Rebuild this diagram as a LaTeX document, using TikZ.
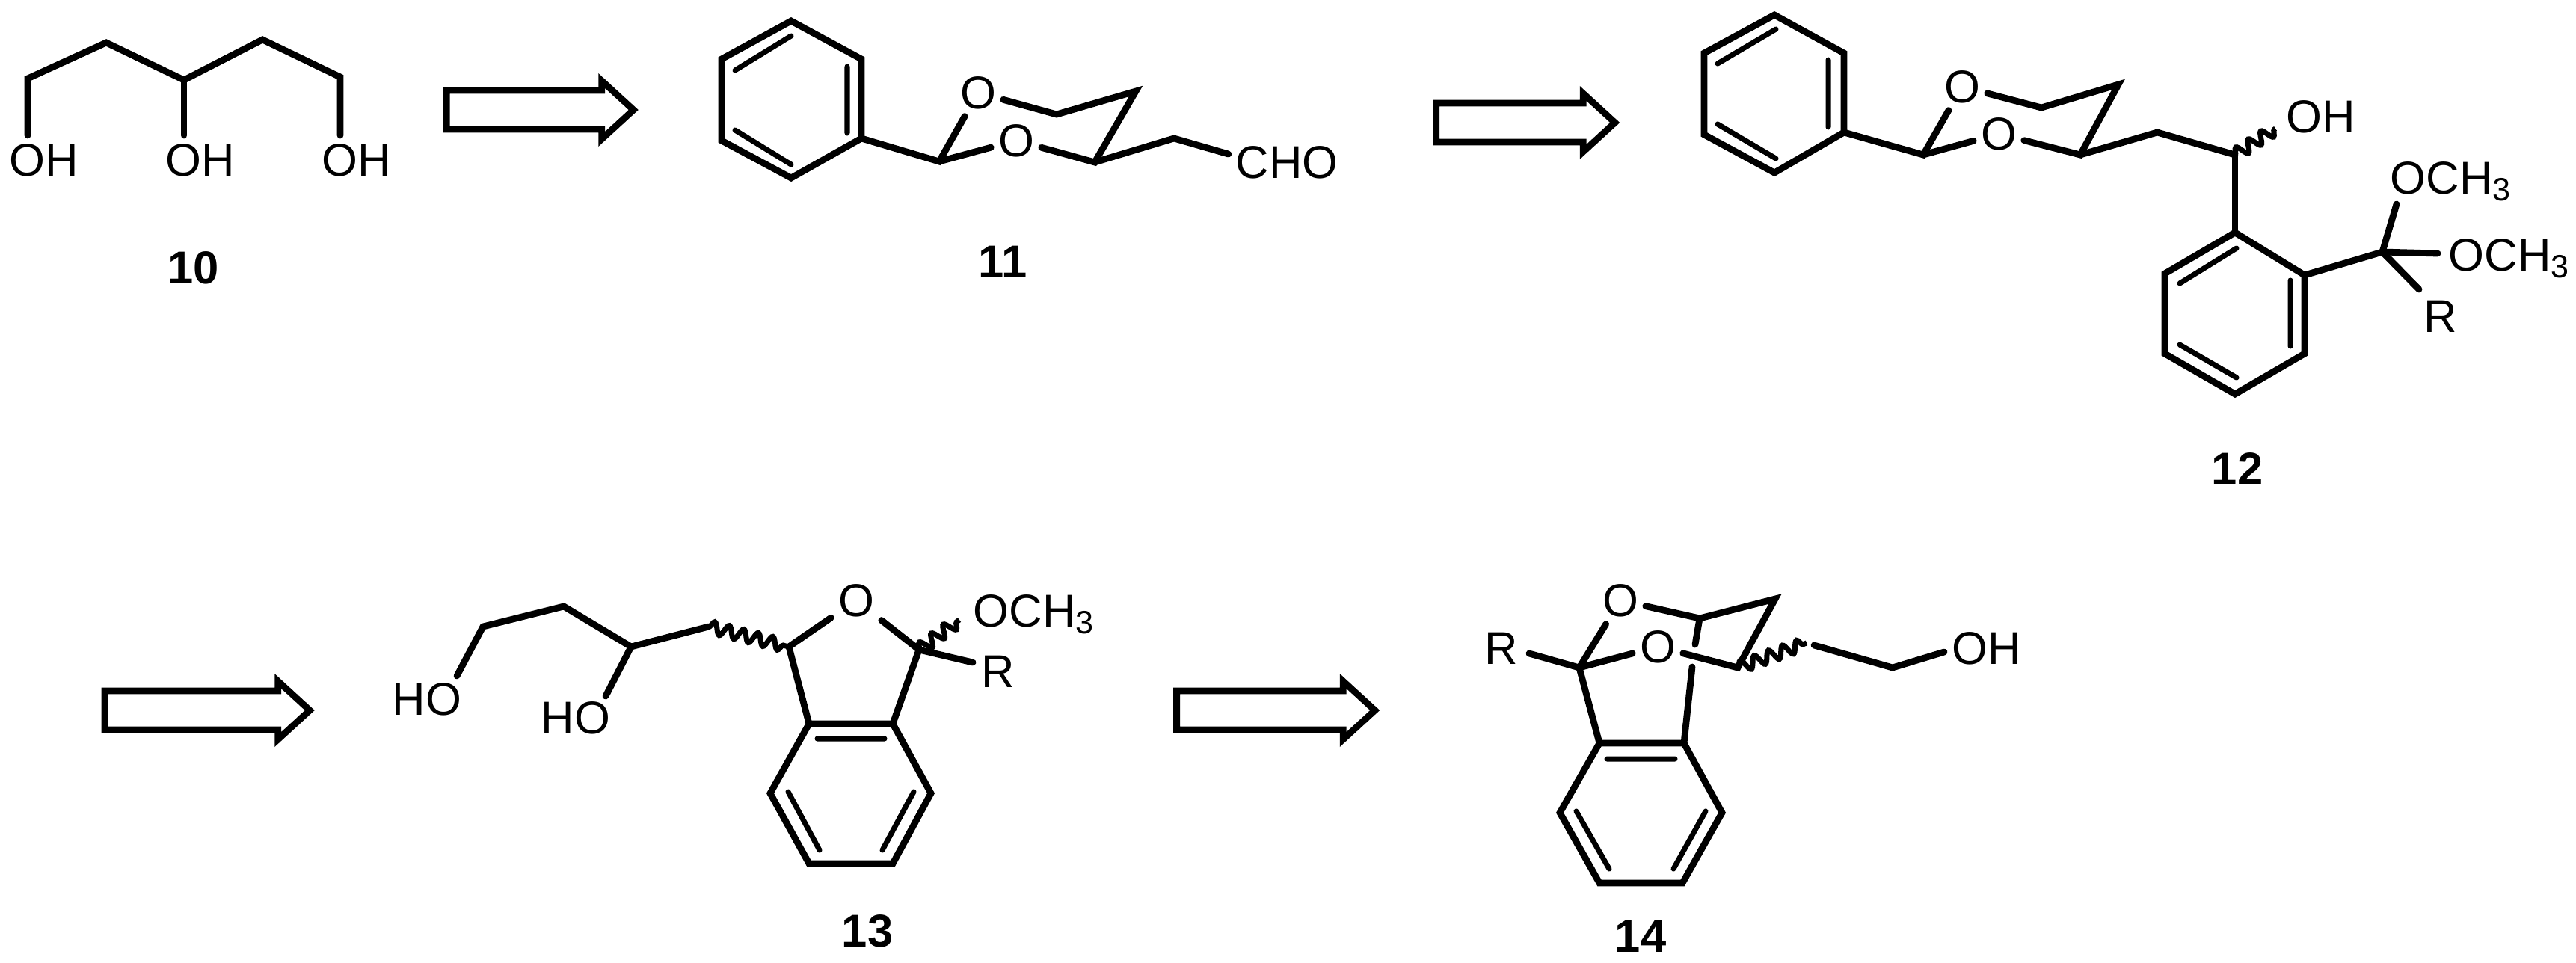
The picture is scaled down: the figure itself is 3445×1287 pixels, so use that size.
\documentclass[tikz,border=0pt]{standalone}
\usepackage{fontspec}
\setmainfont{Liberation Sans}
\usetikzlibrary{decorations.pathmorphing,shapes.arrows}
\tikzset{x=0.01cm,y=-0.01cm,
         bond/.style={line width=2.5pt,line cap=round,line join=miter},
         inbond/.style={line width=2pt,line cap=round},
         wavy/.style={line width=2pt,decorate,
           decoration={snake,amplitude=0.08cm,segment length=0.2cm}},
         atom/.style={inner sep=2.6pt,font=\fontsize{17.5}{20}\selectfont},
         sublabel/.style={inner sep=0pt,anchor=base west,font=\fontsize{17.5}{20}\selectfont},
         numlabel/.style={inner sep=0pt,font=\fontsize{17.5}{20}\selectfont\bfseries},
         retro/.style={draw,line width=2.5pt,single arrow,shape border rotate=0,
           minimum width=0.78cm,single arrow head extend=0.13cm,
           single arrow tip angle=85,inner xsep=0pt,inner ysep=0.215cm,outer sep=0pt}}
\newcommand{\methoxy}{OCH\textsubscript{3}}
\begin{document}
\begin{tikzpicture}
  \useasboundingbox (0,0) rectangle (3445,1287);
  \node[retro,minimum height=2.5cm] (r1) at (708,147) {};
  \node[retro,minimum height=2.39cm] (r2) at (2026,164) {};
  \node[retro,minimum height=2.74cm] (r3) at (263,950) {};
  \node[retro,minimum height=2.65cm] (r4) at (1692,950) {};

  \node[atom] (oh10a) at (59,214) {OH};
  \node[atom] (oh10b) at (268,214) {OH};
  \node[atom] (oh10c) at (477,214) {OH};
  \coordinate (c10a) at (37,105);
  \coordinate (c10b) at (142,57);
  \coordinate (c10c) at (246,107);
  \coordinate (c10d) at (351,53);
  \coordinate (c10e) at (455,103);
  \coordinate (e10a) at (37,181);
  \coordinate (e10b) at (246,181);
  \coordinate (e10c) at (455,181);
  \draw[bond] (e10a) -- (c10a) -- (c10b) -- (c10c) -- (c10d) -- (c10e) -- (e10c);
  \draw[bond] (c10c) -- (e10b);
  \node[numlabel] (n10) at (259,358) {10};

  \coordinate (p11a) at (1058,28);
  \coordinate (p11b) at (1152,79);
  \coordinate (p11c) at (1152,185);
  \coordinate (p11d) at (1058,238);
  \coordinate (p11e) at (965,188);
  \coordinate (p11f) at (965,79);
  \draw[bond] (p11a) -- (p11b) -- (p11c) -- (p11d) -- (p11e) -- (p11f) -- cycle;
  \coordinate (i11a) at (983,94);
  \coordinate (i11b) at (1058,48);
  \coordinate (i11c) at (1133,89);
  \coordinate (i11d) at (1133,178);
  \coordinate (i11e) at (983,174);
  \coordinate (i11f) at (1058,220);
  \draw[inbond] (i11a) -- (i11b) (i11c) -- (i11d) (i11e) -- (i11f);
  \node[atom] (o11a) at (1308,124) {O};
  \node[atom] (o11b) at (1359,188) {O};
  \coordinate (c11a) at (1256,216);
  \coordinate (c11b) at (1464,217);
  \coordinate (c11c) at (1519,122);
  \coordinate (c11d) at (1413,153);
  \coordinate (c11e) at (1570,185);
  \draw[bond] (p11c) -- (c11a) -- (o11a);
  \draw[bond] (c11a) -- (o11b);
  \draw[bond] (o11b) -- (c11b) -- (c11c) -- (c11d) -- (o11a);
  \node[atom] (cho) at (1721,217) {CHO};
  \draw[bond] (c11b) -- (c11e) -- (cho.172);
  \node[numlabel] (n11) at (1341,350) {11};

  \coordinate (p12a) at (2373,20);
  \coordinate (p12b) at (2466,71);
  \coordinate (p12c) at (2466,177);
  \coordinate (p12d) at (2373,231);
  \coordinate (p12e) at (2279,180);
  \coordinate (p12f) at (2279,71);
  \draw[bond] (p12a) -- (p12b) -- (p12c) -- (p12d) -- (p12e) -- (p12f) -- cycle;
  \coordinate (i12a) at (2297,85);
  \coordinate (i12b) at (2375,39);
  \coordinate (i12c) at (2445,80);
  \coordinate (i12d) at (2445,170);
  \coordinate (i12e) at (2297,166);
  \coordinate (i12f) at (2375,212);
  \draw[inbond] (i12a) -- (i12b) (i12c) -- (i12d) (i12e) -- (i12f);
  \node[atom] (o12a) at (2624,116) {O};
  \node[atom] (o12b) at (2673,179) {O};
  \coordinate (c12a) at (2572,207);
  \coordinate (c12b) at (2782,207);
  \coordinate (c12c) at (2833,113);
  \coordinate (c12d) at (2730,144);
  \coordinate (c12e) at (2885,177);
  \coordinate (c12f) at (2989,207);
  \draw[bond] (p12c) -- (c12a) -- (o12a);
  \draw[bond] (c12a) -- (o12b);
  \draw[bond] (o12b) -- (c12b) -- (c12c) -- (c12d) -- (o12a);
  \draw[bond] (c12b) -- (c12e) -- (c12f);
  \node[atom] (oh12) at (3104,156) {OH};
  \coordinate (w12) at (3043,172);
  \draw[wavy] (c12f) -- (w12);
  \coordinate (q12a) at (2989,311);
  \coordinate (q12b) at (3082,368);
  \coordinate (q12c) at (3082,473);
  \coordinate (q12d) at (2989,527);
  \coordinate (q12e) at (2895,473);
  \coordinate (q12f) at (2895,366);
  \draw[bond] (q12a) -- (q12b) -- (q12c) -- (q12d) -- (q12e) -- (q12f) -- cycle;
  \draw[bond] (c12f) -- (q12a);
  \coordinate (j12a) at (2915,379);
  \coordinate (j12b) at (2991,332);
  \coordinate (j12c) at (3063,375);
  \coordinate (j12d) at (3063,463);
  \coordinate (j12e) at (2915,461);
  \coordinate (j12f) at (2991,505);
  \draw[inbond] (j12a) -- (j12b) (j12c) -- (j12d) (j12e) -- (j12f);
  \coordinate (k12) at (3186,337);
  \coordinate (e12a) at (3205,273);
  \coordinate (e12b) at (3260,339);
  \coordinate (e12c) at (3235,387);
  \node[sublabel] (och12a) at (3196,259) {\methoxy};
  \node[sublabel] (och12b) at (3274,362) {\methoxy};
  \node[atom] (r12) at (3264,423) {R};
  \draw[bond] (q12b) -- (k12) -- (e12a);
  \draw[bond] (k12) -- (e12b);
  \draw[bond] (k12) -- (e12c);
  \node[numlabel] (n12) at (2992,627) {12};

  \node[atom] (ho13a) at (571,935) {HO};
  \node[atom] (ho13b) at (770,960) {HO};
  \node[atom] (o13) at (1145,803) {O};
  \node[sublabel] (och13) at (1301,838) {\methoxy};
  \node[atom] (r13) at (1335,898) {R};
  \coordinate (e13a) at (611,904);
  \coordinate (c13a) at (646,838);
  \coordinate (c13b) at (754,811);
  \coordinate (c13c) at (844,865);
  \coordinate (e13b) at (810,931);
  \coordinate (c13d) at (948,838);
  \coordinate (c13e) at (1055,865);
  \coordinate (c13f) at (1229,869);
  \coordinate (w13) at (1283,829);
  \coordinate (e13c) at (1301,886);
  \draw[bond] (e13a) -- (c13a) -- (c13b) -- (c13c) -- (c13d);
  \draw[bond] (c13c) -- (e13b);
  \draw[wavy] (c13d) -- (c13e);
  \draw[wavy] (c13f) -- (w13);
  \coordinate (p13a) at (1082,968);
  \coordinate (p13b) at (1194,968);
  \coordinate (p13c) at (1245,1061);
  \coordinate (p13d) at (1194,1155);
  \coordinate (p13e) at (1082,1155);
  \coordinate (p13f) at (1030,1061);
  \draw[bond] (p13a) -- (p13b) -- (p13c) -- (p13d) -- (p13e) -- (p13f) -- cycle;
  \draw[bond] (p13a) -- (c13e) -- (o13);
  \draw[bond] (o13) -- (c13f) -- (p13b);
  \draw[bond] (c13f) -- (e13c);
  \coordinate (i13a) at (1093,988);
  \coordinate (i13b) at (1183,988);
  \coordinate (i13c) at (1054,1059);
  \coordinate (i13d) at (1096,1137);
  \coordinate (i13e) at (1222,1059);
  \coordinate (i13f) at (1180,1137);
  \draw[inbond] (i13a) -- (i13b) (i13c) -- (i13d) (i13e) -- (i13f);
  \node[numlabel] (n13) at (1160,1245) {13};

  \node[atom] (r14) at (2008,867) {R};
  \node[atom] (o14a) at (2167,803) {O};
  \node[atom] (o14b) at (2217,865) {O};
  \node[atom] (oh14) at (2657,867) {OH};
  \coordinate (e14a) at (2045,874);
  \coordinate (c14a) at (2112,893);
  \coordinate (c14b) at (2324,893);
  \coordinate (c14c) at (2374,801);
  \coordinate (c14d) at (2273,827);
  \coordinate (e14b) at (2267,862);
  \coordinate (e14c) at (2263,892);
  \coordinate (w14) at (2416,860);
  \coordinate (c14e) at (2426,863);
  \coordinate (c14f) at (2531,893);
  \coordinate (e14d) at (2600,872);
  \draw[bond] (e14a) -- (c14a) -- (o14a);
  \draw[bond] (c14a) -- (o14b);
  \draw[bond] (o14b) -- (c14b) -- (c14c) -- (c14d) -- (o14a);
  \draw[bond] (c14d) -- (e14b);
  \draw[wavy] (c14b) -- (w14);
  \draw[bond] (c14e) -- (c14f) -- (e14d);
  \coordinate (p14a) at (2139,994);
  \coordinate (p14b) at (2252,994);
  \coordinate (p14c) at (2303,1087);
  \coordinate (p14d) at (2250,1181);
  \coordinate (p14e) at (2139,1181);
  \coordinate (p14f) at (2086,1087);
  \draw[bond] (p14a) -- (p14b) -- (p14c) -- (p14d) -- (p14e) -- (p14f) -- cycle;
  \draw[bond] (c14a) -- (p14a);
  \draw[bond] (e14c) -- (p14b);
  \coordinate (i14a) at (2149,1015);
  \coordinate (i14b) at (2240,1015);
  \coordinate (i14c) at (2108,1085);
  \coordinate (i14d) at (2152,1162);
  \coordinate (i14e) at (2281,1085);
  \coordinate (i14f) at (2238,1162);
  \draw[inbond] (i14a) -- (i14b) (i14c) -- (i14d) (i14e) -- (i14f);
  \node[numlabel] (n14) at (2194,1252) {14};
\end{tikzpicture}
\end{document}
